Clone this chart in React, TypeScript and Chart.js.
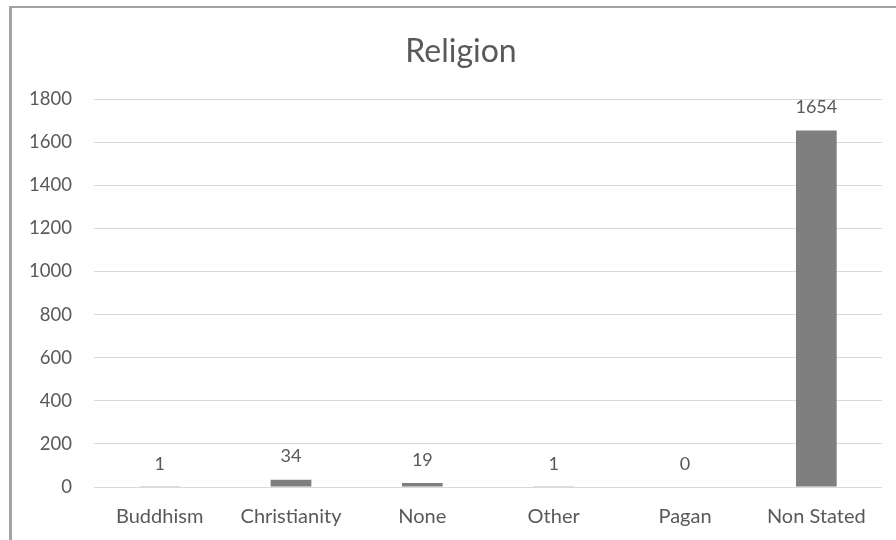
import React, { useEffect, useRef } from "react";
import { Chart, registerables } from "chart.js";

Chart.register(...registerables);

const categories = ["Buddhism", "Christianity", "None", "Other", "Pagan", "Non Stated"];
const counts = [1, 34, 19, 1, 0, 1654];
const titleText = "Religion";
const yMin = 0;
const yMax = 1800;
const yStep = 200;

const FONT = "Lato, 'Open Sans', sans-serif";
const TEXT = "#595959";

export default function App() {
  const ref = useRef<HTMLCanvasElement | null>(null);

  useEffect(() => {
    if (!ref.current) return;
    document.body.style.margin = "0";
    const titlePlugin = {
      id: "customTitle",
      afterDraw(chart: any) {
        const ctx = chart.ctx;
        ctx.save();
        ctx.font = `32px ${FONT}`;
        ctx.fillStyle = TEXT;
        ctx.textAlign = "center";
        ctx.textBaseline = "middle";
        ctx.fillText(titleText, 461, 52);
        ctx.restore();
      },
    };
    const labelPlugin = {
      id: "valueLabels",
      afterDatasetsDraw(chart: any) {
        const ctx = chart.ctx;
        const meta = chart.getDatasetMeta(0);
        ctx.save();
        ctx.font = `18px ${FONT}`;
        ctx.fillStyle = TEXT;
        ctx.textAlign = "center";
        ctx.textBaseline = "middle";
        meta.data.forEach((bar: any, i: number) => {
          ctx.fillText(String(counts[i]), bar.x, bar.y - 23);
        });
        ctx.restore();
      },
    };
    const chart = new Chart(ref.current, {
      type: "bar",
      data: {
        labels: categories,
        datasets: [
          {
            label: titleText,
            data: counts,
            backgroundColor: "#7f7f7f",
            borderWidth: 0,
            barPercentage: 0.31,
            categoryPercentage: 1,
          },
        ],
      },
      options: {
        animation: false,
        responsive: false,
        maintainAspectRatio: false,
        layout: { padding: { top: 99, right: 14, bottom: 0, left: 0 } },
        plugins: {
          legend: { display: false },
          title: { display: false },
          tooltip: { enabled: false },
        },
        scales: {
          x: {
            grid: { display: false, drawTicks: false },
            border: { display: false },
            ticks: { color: TEXT, font: { family: FONT, size: 20 }, padding: 18, maxRotation: 0 },
            afterFit(scale: any) {
              scale.height = 53;
            },
          },
          y: {
            min: yMin,
            max: yMax,
            grid: { color: "#d9d9d9", lineWidth: 1, drawTicks: false },
            border: { display: false },
            ticks: {
              stepSize: yStep,
              color: TEXT,
              font: { family: FONT, size: 18.5 },
              padding: 22,
              callback: (v: any) => String(v),
            },
            afterFit(scale: any) {
              scale.width = 94;
            },
          },
        },
      },
      plugins: [titlePlugin, labelPlugin],
    });
    return () => chart.destroy();
  }, []);

  return (
    <div style={{ position: "fixed", left: 0, top: 0, width: 896, height: 540, background: "#fff" }}>
      <canvas ref={ref} width={896} height={540} style={{ position: "absolute", left: 0, top: 0 }} />
      <div
        style={{
          position: "absolute",
          left: 9,
          top: 6,
          width: 896,
          height: 540,
          borderTop: "2px solid #a0a4a6",
          borderLeft: "3px solid #a0a4a6",
          pointerEvents: "none",
        }}
      />
    </div>
  );
}
